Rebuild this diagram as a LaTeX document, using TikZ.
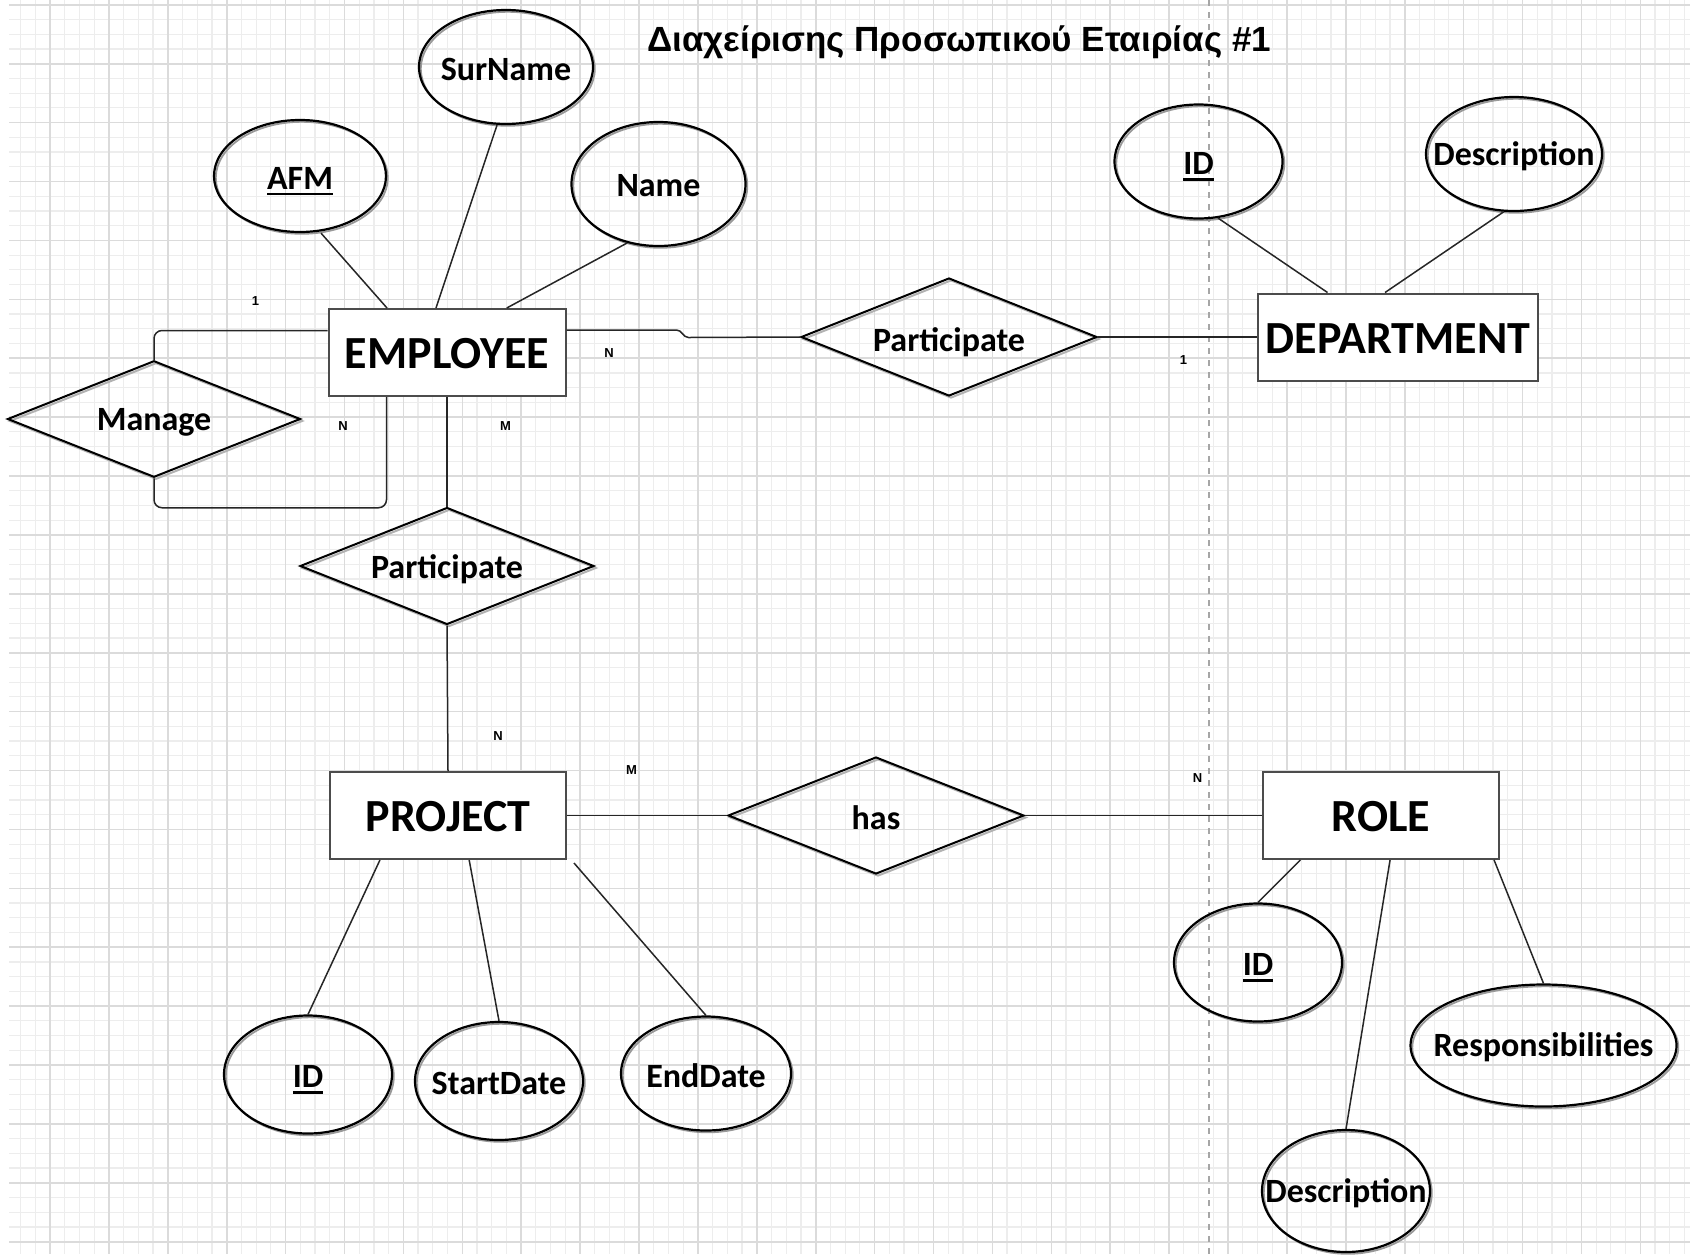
\documentclass[tikz,border=0pt]{standalone}
\usepackage{fontspec}
\setmainfont{Carlito}
\newfontfamily\titlefont{Liberation Sans}
\usetikzlibrary{shapes.geometric,calc}
\newcommand\myul[1]{\setbox0\hbox{#1}\rlap{\smash{\rule[-3pt]{\wd0}{1.1pt}}}\box0}
\newcommand\mylower[2]{\raisebox{-#1}[\height][\depth]{#2}}
\begin{document}
\begin{tikzpicture}[x=0.5pt,y=-0.5pt,
  entity/.style={rectangle, draw=black!70, line width=1pt, fill=white, inner sep=0pt,
    text height=16pt, text depth=0pt,
    font=\bfseries\fontsize{23}{27}\selectfont},
  attrtext/.style={inner sep=0pt, yshift=-1pt, font=\bfseries\fontsize{17}{20}\selectfont},
  attr/.style={ellipse, draw=black, line width=1.1pt, inner sep=0pt,
    preaction={draw=black!40, line width=0.9pt, transform canvas={shift={(0.9pt,-0.9pt)}}},
    label={[attrtext]center:#1}},
  rel/.style={diamond, aspect=2.5, draw=black, line width=1pt, inner sep=0pt,
    preaction={draw=black!30, line width=1pt, transform canvas={shift={(1pt,-1pt)}}},
    font=\bfseries\fontsize{17}{20}\selectfont},
  conn/.style={draw=black!85, line width=0.75pt},
  card/.style={font=\titlefont\bfseries\fontsize{6.5}{8}\selectfont, inner sep=0pt},
  minorgrid/.style={draw=black!7, line width=0.6pt},
  majorgrid/.style={draw=black!14, line width=0.8pt}
]
\useasboundingbox (0,0) rectangle (1690,1254);
\fill[white] (0,0) rectangle (1690,1254);
% grid
\foreach \i in {0,...,114} {
  \draw[minorgrid] ({20.5+14.725*\i},0) -- ({20.5+14.725*\i},1254);
}
\foreach \i in {0,...,85} {
  \draw[minorgrid] (9,{4.8+14.725*\i}) -- (1690,{4.8+14.725*\i});
}
\foreach \i in {0,...,28} {
  \draw[majorgrid] ({50+58.9*\i},0) -- ({50+58.9*\i},1254);
}
\foreach \i in {0,...,21} {
  \draw[majorgrid] (9,{4.8+58.9*\i}) -- (1690,{4.8+58.9*\i});
}
\draw[draw=black!35, line width=0.6pt, dash pattern=on 3pt off 3pt] (1209,0) -- (1209,1254);

% title
\node[font=\titlefont\bfseries\fontsize{17.5}{20}\selectfont] (title) at (959,42) {Διαχείρισης Προσωπικού Εταιρίας \#1};

% entities
\node[entity, minimum width=118.5pt, minimum height=43.5pt] (emp) at (447,352.5) {EMPLOYEE};
\node[entity, minimum width=140pt, minimum height=43.5pt] (dept) at (1398,337) {DEPARTMENT};
\node[entity, minimum width=118pt, minimum height=43.5pt] (proj) at (448,815.5) {PROJECT};
\node[entity, minimum width=118pt, minimum height=43.5pt] (role) at (1381,815.5) {ROLE};

% relationships
\node[rel, minimum width=146.5pt, minimum height=58.25pt] (manage) at (154,419) {\mylower{1.5pt}{Manage}};
\node[rel, minimum width=148pt, minimum height=59pt] (part1) at (949,337) {\mylower{2.5pt}{Participate}};
\node[rel, minimum width=147pt, minimum height=58.5pt] (part2) at (447,566) {\mylower{1.5pt}{Participate}};
\node[rel, minimum width=148pt, minimum height=58.5pt] (has) at (876,815.5) {\mylower{1pt}{has}};

% attributes
\node[attr={\myul{AFM}}, minimum width=86pt, minimum height=56pt] (afm) at (300,176) {};
\node[attr={SurName}, minimum width=87pt, minimum height=57pt] (sur) at (506,67) {};
\node[attr={Name}, minimum width=87pt, minimum height=62pt] (name) at (658.5,184) {};
\node[attr={\myul{ID}}, minimum width=84pt, minimum height=57pt] (did) at (1198.5,161.5) {};
\node[attr={Description}, minimum width=88pt, minimum height=57pt] (ddesc) at (1514,154) {};
\node[attr={\myul{ID}}, minimum width=84pt, minimum height=59pt] (pid) at (308,1074.5) {};
\node[attr={StartDate}, minimum width=84pt, minimum height=59pt] (sd) at (499,1081) {};
\node[attr={EndDate}, minimum width=85pt, minimum height=57pt] (ed) at (706,1073.5) {};
\node[attr={\myul{ID}}, minimum width=84pt, minimum height=59pt] (rid) at (1258,962.5) {};
\node[attr={Responsibilities}, minimum width=133pt, minimum height=61pt] (resp) at (1543.5,1045.5) {};
\node[attr={Description}, minimum width=84pt, minimum height=61pt] (rdesc) at (1346,1191) {};

% connectors: attributes
\draw[conn] ([xshift=10.5pt]afm.south) -- ($(emp.north west)!0.249!(emp.north east)$);
\draw[conn] ([xshift=-4.5pt]sur.south) -- ($(emp.north west)!0.454!(emp.north east)$);
\draw[conn] (name.-118) -- ($(emp.north west)!0.75!(emp.north east)$);
\draw[conn] (did.-71) -- ($(dept.north west)!0.25!(dept.north east)$);
\draw[conn] (ddesc.-100) -- ($(dept.north west)!0.454!(dept.north east)$);
\draw[conn] ($(proj.south west)!0.214!(proj.south east)$) -- (pid.north);
\draw[conn] ($(proj.south west)!0.589!(proj.south east)$) -- (sd.north);
\draw[conn] ([xshift=3.5pt,yshift=-1.5pt]proj.south east) -- (ed.north);
\draw[conn] ($(role.south west)!0.161!(role.south east)$) -- (rid.north);
\draw[conn] ($(role.south west)!0.538!(role.south east)$) -- (rdesc.north);
\draw[conn] ($(role.south west)!0.975!(role.south east)$) -- (resp.north);

% connectors: relationships
\draw[conn, rounded corners=4pt] ([yshift=11pt]emp.west) -| (manage.north);
\draw[conn, rounded corners=4pt] (manage.south) -- ++(0,29.5) -| ($(emp.south west)+(59,0)$);
\draw[conn] ([yshift=11.25pt]emp.east) -- ++(110,0) to[out=0,in=180] ++(12,7.5) -- (part1.west);
\draw[conn] (part1.east) -- (dept.west);
\draw[conn] (emp.south) -- (part2.north);
\draw[conn] (part2.south) -- (proj.north);
\draw[conn] (proj.east) -- (has.west);
\draw[conn] (has.east) -- (role.west);

% cardinalities
\node[card] (c1) at (255.5,301) {1};
\node[card] (c2) at (609,353.5) {N};
\node[card] (c3) at (343,426) {N};
\node[card] (c4) at (505.5,426) {M};
\node[card] (c5) at (1183.5,360) {1};
\node[card] (c6) at (498,736) {N};
\node[card] (c7) at (631.5,770.5) {M};
\node[card] (c8) at (1197.5,778) {N};
\end{tikzpicture}
\end{document}
